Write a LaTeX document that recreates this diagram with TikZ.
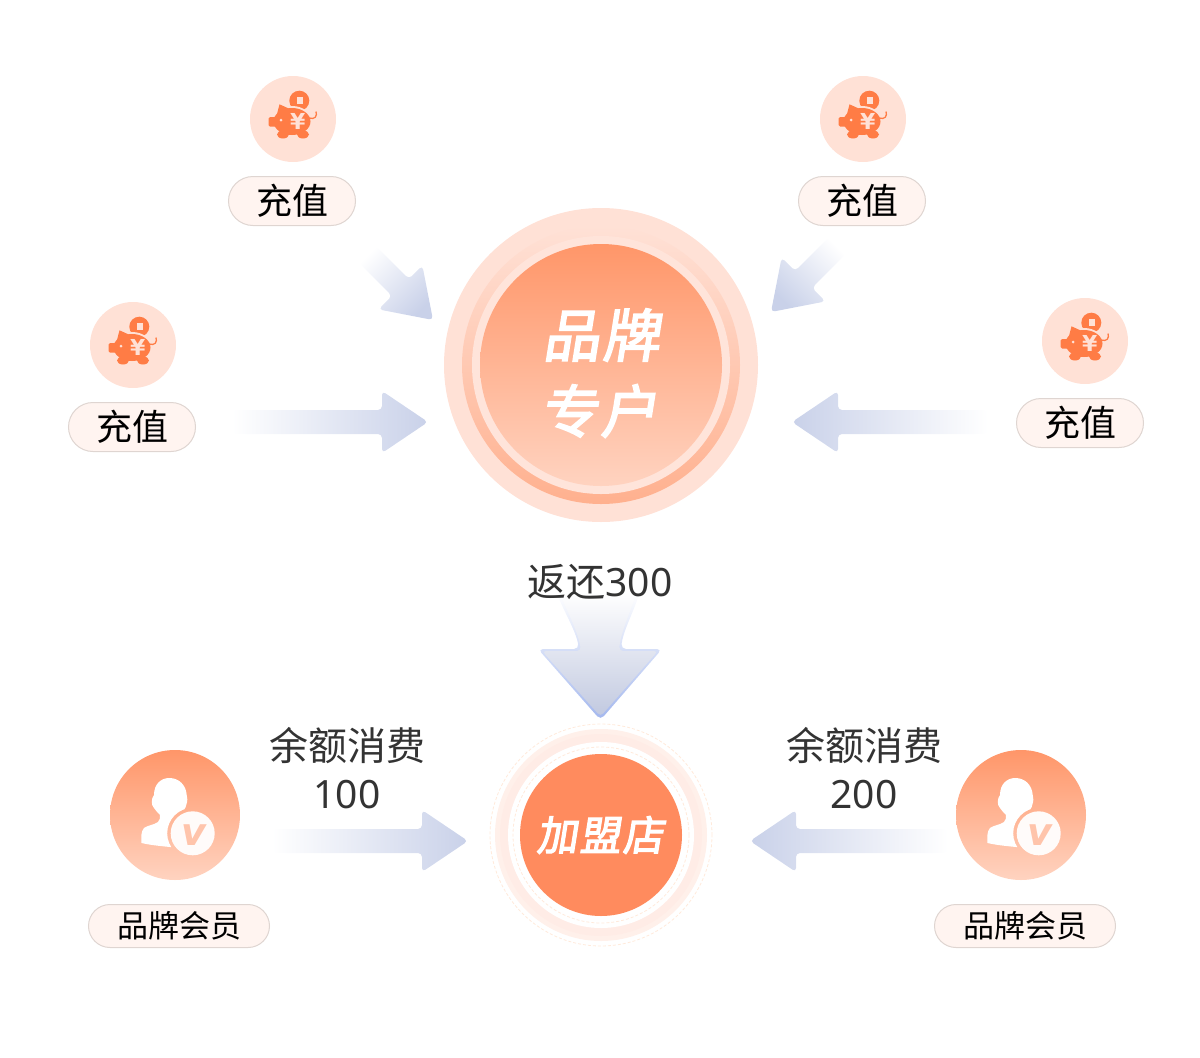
\documentclass[tikz,border=0pt]{standalone}
\usepackage{fontspec}
\setmainfont{Noto Sans CJK SC}
\newfontfamily\titlefont[FakeSlant=0.16,FakeBold=3,LetterSpace=5]{Noto Sans CJK SC}
\newfontfamily\iconfont{DejaVu Sans}
\newfontfamily\digitfont{Noto Sans}
\usetikzlibrary{calc}
\definecolor{orangepig}{HTML}{FF7C45}
\definecolor{orangepale}{HTML}{FFE1D6}
\definecolor{orangeflat}{HTML}{FF8B5E}
\definecolor{orangetop}{HTML}{FF9669}
\definecolor{orangebot}{HTML}{FFD3C0}
\definecolor{pillfill}{HTML}{FFF4F0}
\definecolor{pilledge}{HTML}{DFD5D1}
\definecolor{flowblue}{HTML}{C9D1E9}
\definecolor{edgeblue}{HTML}{A3B7EE}
\definecolor{labelgrey}{HTML}{333333}
\definecolor{ringdash}{HTML}{FFEADB}
\tikzset{
  pill/.style={draw=pilledge,line width=1pt,fill=pillfill,rounded corners=24.5pt,minimum height=49pt,minimum width=127pt,inner sep=0pt,outer sep=0pt,text=black,font=\fontsize{36}{36}\selectfont},
  smallpill/.style={pill,rounded corners=21.5pt,minimum height=43pt,minimum width=181pt,font=\fontsize{31}{31}\selectfont},
  disc/.style={circle,inner sep=0pt,outer sep=0pt},
  tagtext/.style={text=labelgrey,inner sep=0pt,font=\fontsize{39}{39}\selectfont},
  titletext/.style={text=white,inner sep=0pt,font=\titlefont\fontsize{#1}{#1}\selectfont},
  flowfill/.style={top color=white,bottom color=flowblue,rounded corners=4pt},
  piggy/.pic={
    \fill[orangepig] (6.3,-18.3) circle[radius=10];
    \fill[orangepale] (3.7,-21.7) rectangle (9.7,-15);
    \fill[orangepale] (-1,2.5) ellipse[x radius=20,y radius=15.5];
    \draw[orangepig,line width=1.3pt] (16,-1) .. controls (22,1) and (24.5,-3) .. (23,-7.5);
    \fill[orangepig,rounded corners=1.5pt] (-24.5,-2) rectangle (-15,7.5);
    \fill[orangepig] (-10,15.5) ellipse[x radius=6,y radius=4];
    \fill[orangepig] (10,15.5) ellipse[x radius=6,y radius=4];
    \fill[orangepig] (-1,2.5) ellipse[x radius=18.5,y radius=13.5];
    \fill[orangepig] (-13.5,-14.7) -- (-17,-1) -- (-1,-9) -- cycle;
    \fill[orangepale] (-12,1) circle[radius=1.5];
    \node[text=orangepale,inner sep=0pt,font=\iconfont\bfseries\fontsize{22}{22}\selectfont] (yen) at (4.7,2.7) {¥};
  },
  member/.pic={
    \begin{scope}[even odd rule]
      \clip (-65,-65) rectangle (65,65) (17.7,18.3) circle[radius=25.5];
      \fill[white] (-15,0) .. controls (-15,3) and (-15,5) .. (-17,7) .. controls (-21,10) and (-27,10) .. (-31,13)
        .. controls (-34,16) and (-34,23) .. (-33.5,28) .. controls (-25,30) and (-15,31) .. (-5,32) -- (12,32) -- (12,8) -- (4,0)
        .. controls (8,-3) and (11,-7) .. (11.5,-11) .. controls (13,-14) and (12,-18) .. (11.7,-20)
        .. controls (11,-30) and (4,-37) .. (-5.7,-37) .. controls (-14,-37) and (-21,-31) .. (-21,-20)
        .. controls (-24,-16) and (-24,-10) .. (-21,-7) .. controls (-19,-4) and (-17,-2) .. (-15,0) -- cycle;
    \end{scope}
    \fill[white,fill opacity=.95] (17.7,18.3) circle[radius=22];
    \node[text=orangepig!45!white,inner sep=0pt,font=\iconfont\bfseries\itshape\fontsize{38}{38}\selectfont] (vee) at (19,20) {v};
  }
}
% tail, tip, shading angle
\newcommand\flowarrow[3]{
  \coordinate (neck) at ($(#2)!46pt!(#1)$);
  \path[flowfill,shading angle=#3] ($(#1)!12pt!90:(#2)$) -- ($(neck)!12pt!90:(#2)$) -- ($(neck)!31pt!90:(#2)$) -- (#2)
    -- ($(neck)!31pt!-90:(#2)$) -- ($(neck)!12pt!-90:(#2)$) -- ($(#1)!12pt!-90:(#2)$) -- cycle;
}
\begin{document}
\begin{tikzpicture}[x=1pt,y=-1pt]
  \useasboundingbox (0,0) rectangle (1200,1058);
  % top ring
  \node[disc,fill=orangepale,minimum size=314pt] (account) at (601,365) {};
  \node[disc,top color=orangepale,bottom color=orangetop!75!white,minimum size=278pt] (accounta) at (601,365) {};
  \node[disc,fill=orangepale!90!white,minimum size=258pt] (accountb) at (601,365) {};
  \node[disc,top color=orangetop,bottom color=orangebot,minimum size=242pt] (accountc) at (601,365) {};
  \node[titletext=57] (brand) at (601,335) {品牌};
  \node[titletext=57] (own) at (599,411) {专户};
  % recharge items
  \foreach \nm/\cx/\cy/\lx/\ly in {a/293/119/292/201,b/863/119/862/201,c/133/345/132/427,d/1085/341/1080/423} {
    \node[disc,fill=orangepale,minimum size=86pt] (pig\nm) at (\cx,\cy) {};
    \pic at (\cx,\cy) {piggy};
    \node[pill] (pay\nm) at (\lx,\ly) {充值};
  }
  % arrows into the account
  \coordinate (taila) at (365,252); \coordinate (tipa) at (433,320);
  \coordinate (tailb) at (840,243); \coordinate (tipb) at (771,312);
  \coordinate (tailc) at (232,422); \coordinate (tipc) at (428,422);
  \coordinate (taild) at (988,422); \coordinate (tipd) at (792,422);
  \flowarrow{taila}{tipa}{45}
  \flowarrow{tailb}{tipb}{-45}
  \flowarrow{tailc}{tipc}{90}
  \flowarrow{taild}{tipd}{-90}
  % return arrow
  \path[top color=white,bottom color=edgeblue,rounded corners=5pt]
    (556,592) .. controls (566,615) and (576,632) .. (579,649) -- (538,649) -- (600.5,720) -- (662,649) -- (621,649) .. controls (623,632) and (632,615) .. (640,592) -- cycle;
  \path[top color=white,bottom color=flowblue!96!black,rounded corners=4pt]
    (559,592) .. controls (569,615) and (578,632) .. (581,651) -- (542,651) -- (600.5,716.5) -- (658,651) -- (619,651) .. controls (621,632) and (629,615) .. (637,592) -- cycle;
  \node[tagtext] (back) at (600,582) {返还{\digitfont 300}};
  % shop
  \node[disc,fill=white,draw=ringdash,densely dashed,line width=.8pt,minimum size=222pt] (shopo) at (601,835) {};
  \node[disc,fill=orangepale!50!white,minimum size=212pt] (shopa) at (601,835) {};
  \node[disc,fill=orangepale!62!white,minimum size=202pt] (shopb) at (601,835) {};
  \node[disc,fill=white,minimum size=186pt] (shopc) at (601,835) {};
  \node[disc,draw=ringdash,densely dashed,line width=.8pt,minimum size=176pt] (shopd) at (601,835) {};
  \node[disc,fill=orangeflat,minimum size=162pt] (shope) at (601,835) {};
  \node[titletext=41] (shop) at (600,835) {加盟店};
  % members
  \foreach \nm/\cx/\lx in {l/175/179,r/1021/1025} {
    \node[disc,top color=orangetop,bottom color=orangebot,minimum size=130pt] (vip\nm) at (\cx,815) {};
    \pic at (\cx,815) {member};
    \node[smallpill] (tag\nm) at (\lx,926) {品牌会员};
  }
  \node[tagtext] (spendl) at (347,746) {余额消费};
  \node[tagtext,font=\digitfont\fontsize{39}{39}\selectfont] (suml) at (347,795) {100};
  \node[tagtext] (spendr) at (864,746) {余额消费};
  \node[tagtext,font=\digitfont\fontsize{39}{39}\selectfont] (sumr) at (864,795) {200};
  \coordinate (taile) at (272,841); \coordinate (tipe) at (468,841);
  \coordinate (tailf) at (948,841); \coordinate (tipf) at (750,841);
  \flowarrow{taile}{tipe}{90}
  \flowarrow{tailf}{tipf}{-90}
\end{tikzpicture}
\end{document}
